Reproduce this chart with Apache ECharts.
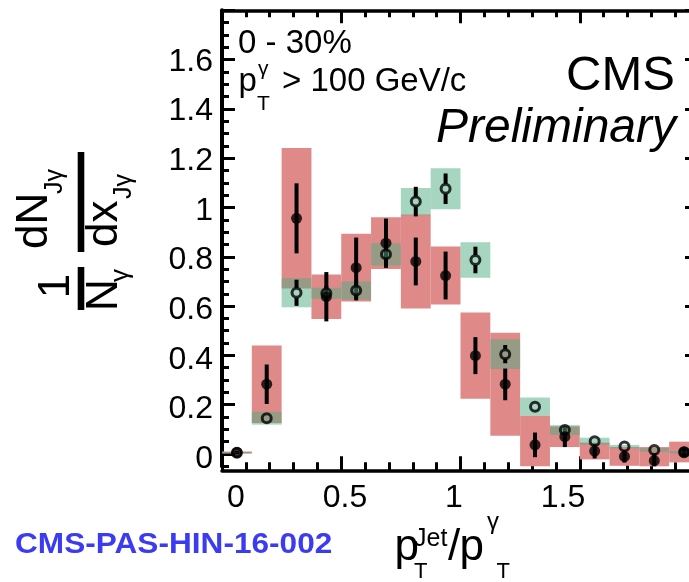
<!DOCTYPE html>
<html>
<head>
<meta charset="utf-8">
<script src="https://cdn.jsdelivr.net/npm/echarts@6/dist/echarts.min.js"></script>
<style>
  html, body { margin: 0; padding: 0; background: #fff; }
  #chart { width: 689px; height: 582px; }
</style>
</head>
<body>
<div id="chart"></div>
<script>
// x_Jγ = pT(jet)/pT(γ) bins (centres) and bin width
const binCenters = [0.0625, 0.1875, 0.3125, 0.4375, 0.5625, 0.6875, 0.8125, 0.9375,
                    1.0625, 1.1875, 1.3125, 1.4375, 1.5625, 1.6875, 1.8125, 1.9375];
const binWidth = 0.125;

// PbPb 0-30% (filled markers, red systematic boxes)
const pbpbVal  = [0.006, 0.283, 0.956, 0.638, 0.756, 0.855, 0.781, 0.724,
                  0.399, 0.283, 0.037, 0.070, 0.012, -0.010, -0.027, 0.008];
const pbpbStat = [0.006, 0.080, 0.142, 0.100, 0.122, 0.100, 0.097, 0.097,
                  0.075, 0.065, 0.050, 0.042, 0.030, 0.025, 0.030, 0.020];
const pbpbSys  = [0.004, 0.157, 0.285, 0.090, 0.137, 0.105, 0.191, 0.118,
                  0.175, 0.209, 0.118, 0.042, 0.034, 0.038, 0.055, 0.042];

// smeared pp reference (open markers, green systematic boxes)
const ppVal  = [0.005, 0.145, 0.654, 0.652, 0.663, 0.810, 1.024, 1.076,
                0.787, 0.405, 0.192, 0.097, 0.052, 0.030, 0.016, 0.007];
const ppStat = [0.002, 0.015, 0.053, 0.030, 0.040, 0.050, 0.060, 0.062,
                0.054, 0.037, 0.020, 0.015, 0.010, 0.008, 0.006, 0.004];
const ppSys  = [0.003, 0.026, 0.059, 0.022, 0.037, 0.045, 0.055, 0.083,
                0.072, 0.060, 0.037, 0.020, 0.014, 0.007, 0.007, 0.005];

// axis tick labels
const xTickLabels = [0, 0.5, 1, 1.5];
const yTickLabels = [0, 0.2, 0.4, 0.6, 0.8, 1, 1.2, 1.4, 1.6];
const yMajorTicks = [0, 0.2, 0.4, 0.6, 0.8, 1, 1.2, 1.4, 1.6, 1.8];

const FONT = '"Liberation Sans", Arial, Helvetica, sans-serif';
const RED_BOX = '#df8989';
const GREEN_BOX = 'rgba(77,173,129,0.5)';

const chart = echarts.init(document.getElementById('chart'), null, { renderer: 'canvas' });

function clipBox(params) {
  const c = params.coordSys;
  return { x: c.x, y: c.y, width: c.width, height: c.height };
}

function boxRenderer(color) {
  return function (params, api) {
    const x = api.value(0), v = api.value(1), s = api.value(2);
    const p1 = api.coord([x - binWidth / 2, v + s]);
    const p2 = api.coord([x + binWidth / 2, v - s]);
    const shape = echarts.graphic.clipRectByRect(
      { x: p1[0], y: p1[1], width: p2[0] - p1[0], height: Math.max(p2[1] - p1[1], 1.5) },
      clipBox(params));
    return shape && { type: 'rect', shape: shape, style: { fill: color } };
  };
}

// vertical statistical error bar, left open over the marker (gap = marker radius)
function errRenderer(gap) {
  return function (params, api) {
    const x = api.value(0), v = api.value(1), s = api.value(2);
    const c = params.coordSys;
    const mid = api.coord([x, v]);
    const top = api.coord([x, v + s]);
    const bot = api.coord([x, v - s]);
    const yTop = Math.max(top[1], c.y), yBot = Math.min(bot[1], c.y + c.height);
    const children = [];
    if (mid[1] - gap > yTop) {
      children.push({ type: 'line', shape: { x1: mid[0], y1: yTop, x2: mid[0], y2: mid[1] - gap },
                      style: { stroke: '#000', lineWidth: 4 } });
    }
    if (mid[1] + gap < yBot) {
      children.push({ type: 'line', shape: { x1: mid[0], y1: mid[1] + gap, x2: mid[0], y2: yBot },
                      style: { stroke: '#000', lineWidth: 4 } });
    }
    return { type: 'group', children: children };
  };
}

// text helper: anchored at a baseline
function txt(text, x, baseline, size, extra) {
  extra = extra || {};
  const align = extra.align || 'left';
  return {
    type: 'text',
    x: 0, y: 0,
    style: {
      text: text, x: x, y: baseline - 0.3465 * size,
      fontSize: size, fontFamily: FONT,
      fontStyle: extra.italic ? 'italic' : 'normal',
      fontWeight: extra.bold ? 'bold' : 'normal',
      fill: extra.color || '#000',
      align: align, textAlign: align,
      verticalAlign: 'middle', textVerticalAlign: 'middle'
    },
    silent: true
  };
}

const lineStyle = { color: '#000', width: 3.5 };
const tickStyle = { color: '#000', width: 3 };

const xAxes = [
  { // bottom major ticks and axis line
    type: 'value', position: 'bottom', offset: 4, min: 0, max: 2, interval: 0.5,
    axisLine: { show: true, onZero: false, lineStyle: lineStyle },
    axisTick: { show: true, inside: true, length: 14, lineStyle: tickStyle },
    axisLabel: { show: false }, splitLine: { show: false }
  },
  { // bottom minor ticks
    type: 'value', position: 'bottom', offset: 4, min: 0, max: 2, interval: 0.1,
    axisLine: { show: false, onZero: false },
    axisTick: { show: true, inside: true, length: 8, lineStyle: tickStyle },
    axisLabel: { show: false }, splitLine: { show: false }
  },
  { // top frame with major ticks
    type: 'value', position: 'top', offset: 0, min: 0, max: 2, interval: 0.5,
    axisLine: { show: true, onZero: false, lineStyle: lineStyle },
    axisTick: { show: true, inside: true, length: 13, lineStyle: tickStyle },
    axisLabel: { show: false }, splitLine: { show: false }
  },
  { // top minor ticks
    type: 'value', position: 'top', offset: 0, min: 0, max: 2, interval: 0.1,
    axisLine: { show: false, onZero: false },
    axisTick: { show: true, inside: true, length: 7, lineStyle: tickStyle },
    axisLabel: { show: false }, splitLine: { show: false }
  },
  { // tick labels of the x axis
    type: 'value', position: 'bottom', offset: 0, min: -0.0642, max: 2.1239,
    axisLine: { show: false, onZero: false }, axisTick: { show: false },
    axisLabel: { show: true, customValues: xTickLabels, margin: 16, fontSize: 32,
                 fontFamily: FONT, color: '#000' },
    splitLine: { show: false }
  }
];

const yAxes = [
  { // left axis line with major ticks
    type: 'value', position: 'left', offset: 0, min: -0.05, max: 1.8,
    axisLine: { show: true, onZero: false, lineStyle: { color: '#000', width: 4 } },
    axisTick: { show: true, inside: true, length: 13, customValues: yMajorTicks, lineStyle: tickStyle },
    axisLabel: { show: false }, splitLine: { show: false }
  },
  { // left minor ticks
    type: 'value', position: 'left', offset: 0, min: -0.05, max: 1.8, interval: 0.05,
    axisLine: { show: false, onZero: false },
    axisTick: { show: true, inside: true, length: 7, lineStyle: tickStyle },
    axisLabel: { show: false }, splitLine: { show: false }
  },
  { // right frame with major ticks
    type: 'value', position: 'right', offset: 0, min: -0.05, max: 1.8,
    axisLine: { show: true, onZero: false, lineStyle: { color: '#000', width: 4 } },
    axisTick: { show: true, inside: true, length: 14, customValues: yMajorTicks, lineStyle: tickStyle },
    axisLabel: { show: false }, splitLine: { show: false }
  },
  { // right minor ticks
    type: 'value', position: 'right', offset: 0, min: -0.05, max: 1.8, interval: 0.05,
    axisLine: { show: false, onZero: false },
    axisTick: { show: true, inside: true, length: 7, lineStyle: tickStyle },
    axisLabel: { show: false }, splitLine: { show: false }
  },
  { // tick labels of the y axis
    type: 'value', position: 'left', offset: 0, min: -0.0294, max: 1.807,
    axisLine: { show: false, onZero: false }, axisTick: { show: false },
    axisLabel: { show: true, customValues: yTickLabels, margin: 9, fontSize: 32,
                 fontFamily: FONT, color: '#000' },
    splitLine: { show: false }
  }
];

const pbpbBoxData = binCenters.map((x, i) => [x, pbpbVal[i], pbpbSys[i]]);
const pbpbErrData = binCenters.map((x, i) => [x, pbpbVal[i], pbpbStat[i]]);
const ppBoxData = binCenters.map((x, i) => [x, ppVal[i], ppSys[i]]);
const ppErrData = binCenters.map((x, i) => [x, ppVal[i], ppStat[i]]);

// vertical y-axis title: 1/N_γ dN_Jγ/dx_Jγ, laid out horizontally then rotated
const yTitle = {
  type: 'group', x: 81, y: 310, rotation: Math.PI / 2, silent: true,
  children: [
    { type: 'rect', shape: { x: 0, y: -3.3, width: 43, height: 6.6 }, style: { fill: '#000' } },
    txt('1', 24, -9, 44, { align: 'center' }),
    txt('N', -1, 39, 44),
    txt('\u03b3', 28, 49, 26),
    { type: 'rect', shape: { x: 58, y: -3.3, width: 100, height: 6.6 }, style: { fill: '#000' } },
    txt('dN', 61, -31, 44),
    txt('J\u03b3', 116, -17, 25),
    txt('dx', 63, 39, 44),
    txt('J\u03b3', 111, 52, 25)
  ]
};

const option = {
  animation: false,
  backgroundColor: '#fff',
  grid: { left: 222, right: -10, top: 10.3, bottom: 115.7, outerBoundsMode: 'none', containLabel: false },
  xAxis: xAxes,
  yAxis: yAxes,
  series: [
    { name: 'PbPb syst', type: 'custom', renderItem: boxRenderer(RED_BOX),
      encode: { x: 0, y: 1 }, data: pbpbBoxData, silent: true },
    { name: 'PbPb stat', type: 'custom', renderItem: errRenderer(0),
      encode: { x: 0, y: 1 }, data: pbpbErrData, silent: true },
    { name: 'PbPb', type: 'scatter', symbol: 'circle', symbolSize: 11,
      itemStyle: { color: '#000' }, data: binCenters.map((x, i) => [x, pbpbVal[i]]), silent: true },
    { name: 'pp syst', type: 'custom', renderItem: boxRenderer(GREEN_BOX),
      encode: { x: 0, y: 1 }, data: ppBoxData, silent: true },
    { name: 'pp stat', type: 'custom', renderItem: errRenderer(5),
      encode: { x: 0, y: 1 }, data: ppErrData, silent: true },
    { name: 'pp', type: 'scatter', symbol: 'circle', symbolSize: 9,
      itemStyle: { color: 'rgba(0,0,0,0)', borderColor: '#000', borderWidth: 3 },
      data: binCenters.map((x, i) => [x, ppVal[i]]), silent: true }
  ],
  graphic: [
    txt('0 - 30%', 238, 55, 33),
    txt('p', 238.5, 93, 33),
    txt('T', 257, 111, 21),
    txt('\u03b3', 258, 76, 21),
    txt('> 100 GeV/c', 282, 93, 33),
    txt('CMS', 675, 93, 49, { align: 'right' }),
    txt('Preliminary', 676, 145, 48, { align: 'right', italic: true }),
    { type: 'group', x: 15, y: 0, scaleX: 1.09, silent: true,
      children: [txt('CMS-PAS-HIN-16-002', 0, 555, 29, { bold: true, color: '#3b3bf2' })] },
    // x-axis title p_T^Jet / p_T^γ
    txt('p', 394.5, 563, 44),
    txt('Jet', 414, 548, 25),
    txt('T', 414, 580, 22),
    txt('/', 448, 563, 44),
    txt('p', 459.5, 563, 44),
    txt('\u03b3', 487, 531, 24),
    txt('T', 496.5, 580, 22),
    yTitle
  ]
};

chart.setOption(option);
</script>
</body>
</html>
